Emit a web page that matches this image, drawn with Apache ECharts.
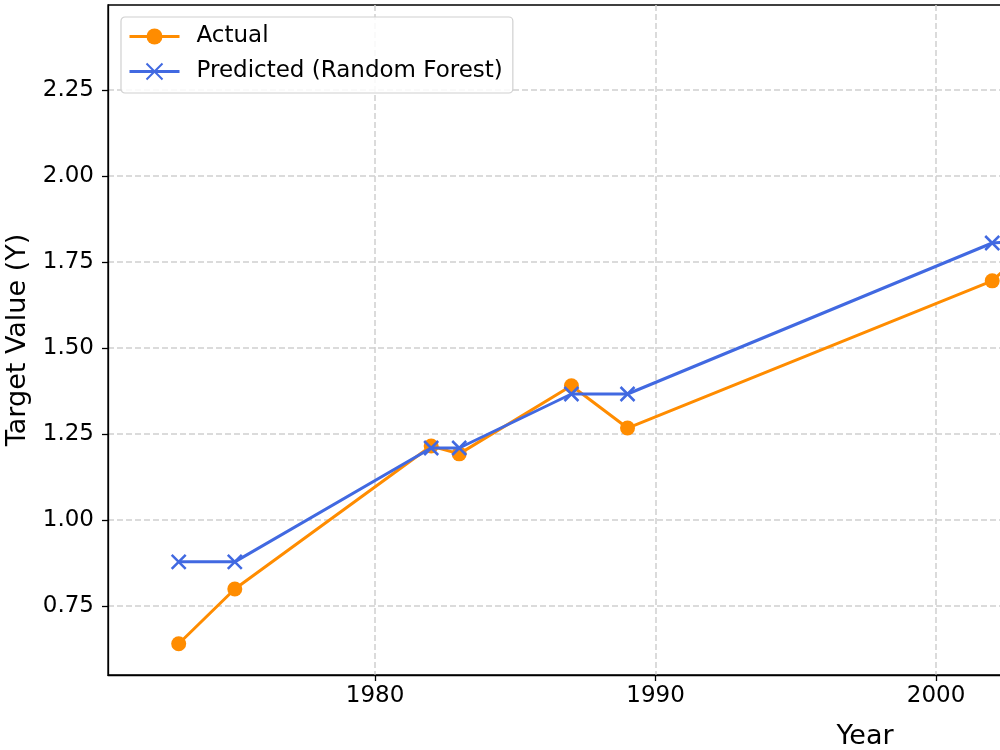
<!DOCTYPE html>
<html>
<head>
<meta charset="utf-8">
<script src="https://cdn.jsdelivr.net/npm/echarts@6/dist/echarts.min.js"></script>
<style>html,body{margin:0;padding:0;background:#fff}#c{width:1000px;height:750px}</style>
</head>
<body>
<div id="c"></div>
<script>
const years = [1973, 1975, 1982, 1983, 1987, 1989, 2002, 2003];
const actual = [0.640, 0.799, 1.215, 1.192, 1.390, 1.267, 1.695, 1.77];
const predicted = [0.878, 0.878, 1.209, 1.209, 1.366, 1.366, 1.805, 1.81];
const xTicks = [1980, 1990, 2000, 2010, 2020];
const yTicks = [0.75, 1.00, 1.25, 1.50, 1.75, 2.00, 2.25];

const font = 'DejaVu Sans';
const chart = echarts.init(document.getElementById('c'), null, {renderer: 'canvas'});
const gridLine = {show: true, lineStyle: {color: '#cfcfcf', width: 1.5, type: [6, 3]}};
chart.setOption({
  animation: false,
  backgroundColor: '#fff',
  textStyle: {fontFamily: font},
  grid: {left: 108, right: -622, top: 5, bottom: 75, containLabel: false, outerBoundsMode: 'none',
         show: true, borderColor: '#000', borderWidth: 1.3, backgroundColor: 'transparent'},
  legend: {
    orient: 'vertical', left: 121, top: 17,
    padding: [8, 10, 10, 7],
    itemWidth: 50, itemHeight: 20, itemGap: 12,
    lineStyle: {width: 3},
    backgroundColor: 'rgba(255,255,255,0.85)', borderColor: '#d0d0d0', borderWidth: 1.2, borderRadius: 4,
    textStyle: {fontFamily: font, fontSize: 23, color: '#000', lineHeight: 22, padding: [0, 0, 0, 12]},
    data: ['Actual', 'Predicted (Random Forest)']
  },
  xAxis: {
    type: 'value', min: 1970.48, max: 2024.45,
    name: 'Year', nameLocation: 'middle', nameGap: 48,
    nameTextStyle: {fontFamily: font, fontSize: 27, color: '#000'},
    axisLine: {show: true, lineStyle: {color: '#000', width: 1.3}},
    axisTick: {show: true, length: 6, lineStyle: {color: '#000', width: 1.3}, customValues: xTicks},
    axisLabel: {fontFamily: font, fontSize: 23, color: '#000', margin: 10, customValues: xTicks, formatter: v => String(v)},
    splitLine: gridLine
  },
  yAxis: {
    type: 'value', min: 0.549, max: 2.497,
    name: 'Target Value (Y)', nameLocation: 'middle', nameGap: 77, nameRotate: 90,
    nameTextStyle: {fontFamily: font, fontSize: 27, color: '#000'},
    axisLine: {show: true, lineStyle: {color: '#000', width: 1.3}},
    axisTick: {show: true, length: 6, lineStyle: {color: '#000', width: 1.3}, customValues: yTicks},
    axisLabel: {fontFamily: font, fontSize: 23, color: '#000', margin: 14, customValues: yTicks, formatter: v => v.toFixed(2)},
    splitLine: gridLine
  },
  series: [
    {
      name: 'Actual', type: 'line',
      data: years.map((y, i) => [y, actual[i]]),
      symbol: 'circle', symbolSize: 15, showAllSymbol: true,
      itemStyle: {color: '#ff8c00'},
      lineStyle: {color: '#ff8c00', width: 3},
      z: 3
    },
    {
      name: 'Predicted (Random Forest)', type: 'line',
      data: years.map((y, i) => [y, predicted[i]]),
      symbol: 'path://M0,0L20,20M20,0L0,20', symbolSize: 14, showAllSymbol: true,
      itemStyle: {color: '#4169e1', borderColor: '#4169e1', borderWidth: 2.5},
      lineStyle: {color: '#4169e1', width: 3},
      z: 4
    }
  ]
});
</script>
</body>
</html>
